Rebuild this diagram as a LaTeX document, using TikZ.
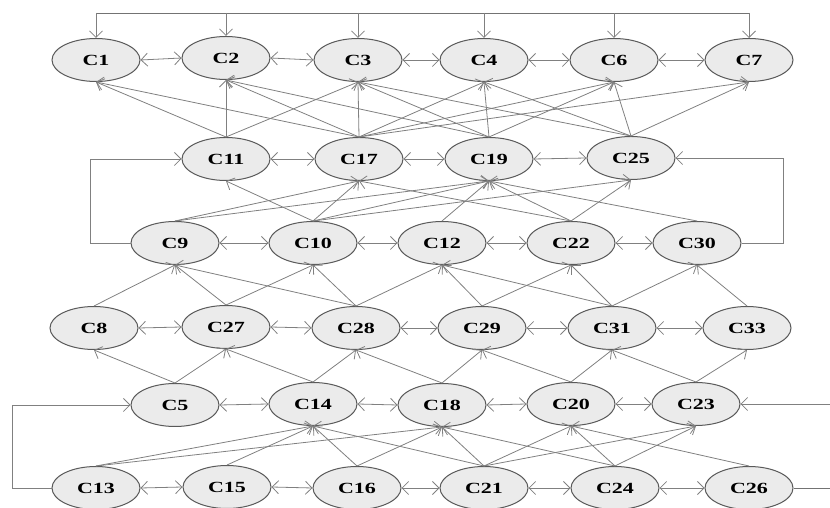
\documentclass[tikz,border=0pt]{standalone}
\usepackage{fontspec}
\usepackage{graphicx}
\setmainfont{Liberation Serif}
\usetikzlibrary{shapes.geometric,arrows.meta}
\newcommand{\lb}[1]{\scalebox{1.42}[1]{#1}}
\begin{document}
\begin{tikzpicture}[x=1pt,y=1pt,
  cn/.style={ellipse, draw=black!65, fill=black!8, line width=1pt, minimum width=88pt, minimum height=43pt, inner sep=0pt, font=\fontsize{15.5}{15.5}\selectfont\bfseries},
  tip/.tip={Straight Barb[length=6.5pt,width=13pt]},
  ed/.style={draw=black!50, line width=0.8pt, -tip},
  bi/.style={draw=black!50, line width=0.8pt, tip-tip},
  ln/.style={draw=black!55, line width=0.9pt},
]
\useasboundingbox (0,0) rectangle (830,508);
% row 1
\node[cn] (C1) at (96,448) {\lb{C1}};
\node[cn] (C2) at (226,450) {\lb{C2}};
\node[cn] (C3) at (358,448) {\lb{C3}};
\node[cn] (C4) at (484,448) {\lb{C4}};
\node[cn] (C6) at (614,448) {\lb{C6}};
\node[cn] (C7) at (749,448) {\lb{C7}};
% row 2
\node[cn] (C11) at (226,349) {\lb{C11}};
\node[cn] (C17) at (359,349) {\lb{C17}};
\node[cn] (C19) at (489,349) {\lb{C19}};
\node[cn] (C25) at (631,350) {\lb{C25}};
% row 3
\node[cn] (C9) at (175,265) {\lb{C9}};
\node[cn] (C10) at (313,265) {\lb{C10}};
\node[cn] (C12) at (442,265) {\lb{C12}};
\node[cn] (C22) at (571,265) {\lb{C22}};
\node[cn] (C30) at (697,265) {\lb{C30}};
% row 4
\node[cn] (C8) at (94,180) {\lb{C8}};
\node[cn] (C27) at (226,181) {\lb{C27}};
\node[cn] (C28) at (356,180) {\lb{C28}};
\node[cn] (C29) at (482,180) {\lb{C29}};
\node[cn] (C31) at (612,180) {\lb{C31}};
\node[cn] (C33) at (747,180) {\lb{C33}};
% row 5
\node[cn] (C5) at (175,103) {\lb{C5}};
\node[cn] (C14) at (313,104) {\lb{C14}};
\node[cn] (C18) at (442,103) {\lb{C18}};
\node[cn] (C20) at (571,104) {\lb{C20}};
\node[cn] (C23) at (696,104) {\lb{C23}};
% row 6
\node[cn] (C13) at (96,20) {\lb{C13}};
\node[cn] (C15) at (227,21) {\lb{C15}};
\node[cn] (C16) at (357,20) {\lb{C16}};
\node[cn] (C21) at (484,20) {\lb{C21}};
\node[cn] (C24) at (615,20) {\lb{C24}};
\node[cn] (C26) at (749,20) {\lb{C26}};

% horizontal two-way links
\foreach \a/\b in {C1/C2,C2/C3,C3/C4,C4/C6,C6/C7,
  C11/C17,C17/C19,C19/C25,
  C9/C10,C10/C12,C12/C22,C22/C30,
  C8/C27,C27/C28,C28/C29,C29/C31,C31/C33,
  C5/C14,C14/C18,C18/C20,C20/C23,
  C13/C15,C15/C16,C16/C21,C21/C24,C24/C26}
  \draw[bi] (\a.east) -- (\b.west);

% upward links
\foreach \a/\b in {C11/C1,C11/C2,C11/C3,
  C17/C1,C17/C2,C17/C3,C17/C4,C17/C6,C17/C7,
  C19/C2,C19/C3,C19/C4,C19/C6,
  C25/C3,C25/C4,C25/C6,C25/C7,
  C9/C17,C9/C19,
  C10/C11,C10/C17,C10/C19,C10/C25,
  C12/C19,
  C22/C17,C22/C19,C22/C25,
  C30/C19,
  C8/C9,C27/C9,C27/C10,C28/C9,C28/C10,C28/C12,
  C29/C12,C29/C22,C31/C12,C31/C22,C31/C30,C33/C30,
  C5/C8,C5/C27,C14/C27,C14/C28,C18/C28,C18/C29,
  C20/C29,C20/C31,C23/C31,C23/C33,
  C13/C14,C13/C18,C15/C14,C16/C14,C16/C18,
  C21/C14,C21/C18,C21/C20,C21/C23,
  C24/C18,C24/C20,C24/C23,C26/C20}
  \draw[ed] (\a.north) -- (\b.south);

% top bus
\coordinate (tL) at (C1.north |- 0,495);
\coordinate (tR) at (C7.north |- 0,495);
\draw[ln] (tL) -- (tR);
\foreach \n in {C1,C2,C3,C4,C6,C7}
  \draw[ed] (\n.north |- tL) -- (\n.north);

% side loops
\coordinate (l1) at (90,0);
\draw[ed] (C9.west) -- (C9.west -| l1) -- (C11.west -| l1) -- (C11.west);
\coordinate (r1) at (783,0);
\draw[ed] (C30.east) -- (C30.east -| r1) -- (C25.east -| r1) -- (C25.east);
\coordinate (l2) at (12,0);
\draw[ed] (C13.west) -- (C13.west -| l2) -- (C5.west -| l2) -- (C5.west);
\coordinate (re) at (830,0);
\draw[ed] (C23.east -| re) -- (C23.east);
\draw[ln] (C26.east) -- (C26.east -| re);
\end{tikzpicture}
\end{document}
